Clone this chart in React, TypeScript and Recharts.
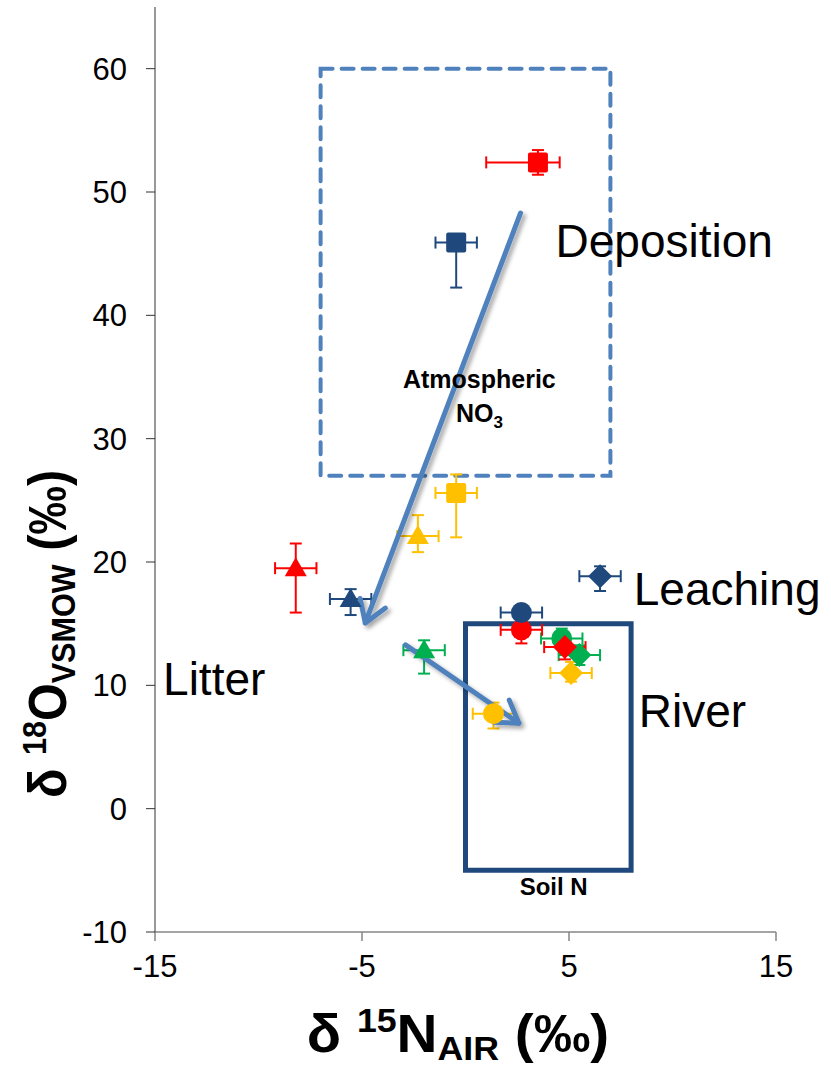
import React from 'react';
import {
  ScatterChart,
  Scatter,
  XAxis,
  YAxis,
  ErrorBar,
  ReferenceArea,
  ReferenceLine,
  ReferenceDot,
  Label,
} from 'recharts';

// nitrate sources, one marker shape each
const sources = ['deposition', 'litter', 'river', 'leaching'];
const greenSources = ['litter', 'river', 'leaching'];

// δ15N (x) and δ18O (y) means, spreads are [minus, plus]
const redN = [3.5, -8.2, 2.7, 4.8];
const redO = [52.4, 19.5, 14.5, 13.1];
const redNErr = [[2.5, 1.05], [1, 1], [1, 1], [1, 1]];
const redOErr = [[1, 1], [3.6, 2], [1.1, 0.6], [1, 0.6]];

const navyN = [-0.45, -5.55, 2.7, 6.5];
const navyO = [45.9, 17.0, 15.9, 18.85];
const navyNErr = [[1, 1], [1, 1], [1, 1], [1, 1]];
const navyOErr = [[3.65, 0.5], [1.3, 0.8], [0.6, 0.6], [1.2, 0.8]];

const goldN = [-0.45, -2.3, 1.35, 5.1];
const goldO = [25.6, 22.1, 7.7, 11.0];
const goldNErr = [[1, 1], [1, 1], [1, 1], [1, 1]];
const goldOErr = [[3.6, 1.5], [1.3, 1.7], [1.2, 0.9], [0.7, 0.9]];

const greenN = [-2.0, 4.65, 5.5];
const greenO = [12.85, 13.8, 12.45];
const greenNErr = [[1, 1], [1, 1], [1, 1]];
const greenOErr = [[1.9, 0.8], [0.8, 0.8], [0.8, 0.8]];

const xTicks = [-15, -5, 5, 15];
const yTicks = [-10, 0, 10, 20, 30, 40, 50, 60];

// source boxes [x1, x2, y1, y2]
const atmosphericBox = [-7, 7, 27, 60];
const soilBox = [0, 8, -5, 15];

// process arrows, [from, to] in δ15N / δ18O
const arrows = [
  [[2.66, 48.3], [-4.84, 15.06]],
  [[-2.9, 13.28], [2.58, 6.93]],
];

const FONT = "'Liberation Sans', Arial, sans-serif";

const notes = [
  { text: 'Deposition', x: 4.35, y: 44.74, size: 46, bold: false, anchor: 'start' },
  { text: 'Leaching', x: 8.13, y: 16.52, size: 46, bold: false, anchor: 'start' },
  { text: 'River', x: 8.37, y: 6.63, size: 46, bold: false, anchor: 'start' },
  { text: 'Litter', x: -14.61, y: 9.22, size: 46, bold: false, anchor: 'start' },
  { text: 'Atmospheric', x: 0.67, y: 34.12, size: 25, bold: true, anchor: 'middle' },
  { text: 'Soil N', x: 4.26, y: -7.0, size: 24, bold: true, anchor: 'middle' },
];

const build = (kinds: string[], n: number[], o: number[], nErr: number[][], oErr: number[][]) =>
  kinds.map((kind, i) => ({ kind, n: n[i], o: o[i], nErr: nErr[i], oErr: oErr[i] }));

const groups = [
  { name: 'green', color: '#00B050', data: build(greenSources, greenN, greenO, greenNErr, greenOErr) },
  { name: 'red', color: '#FF0000', data: build(sources, redN, redO, redNErr, redOErr) },
  { name: 'navy', color: '#1F497D', data: build(sources, navyN, navyO, navyNErr, navyOErr) },
  { name: 'gold', color: '#FFC000', data: build(sources, goldN, goldO, goldNErr, goldOErr) },
];

const Marker = (props: any) => {
  const { cx, cy, fill, payload } = props;
  switch (payload.kind) {
    case 'deposition':
      return <rect x={cx - 10} y={cy - 10} width={20} height={20} rx={2} fill={fill} />;
    case 'litter':
      return <polygon points={`${cx},${cy - 11} ${cx + 11},${cy + 8} ${cx - 11},${cy + 8}`} fill={fill} />;
    case 'river':
      return <circle cx={cx} cy={cy} r={10.5} fill={fill} />;
    default:
      return <polygon points={`${cx},${cy - 12} ${cx + 12},${cy} ${cx},${cy + 12} ${cx - 12},${cy}`} fill={fill} />;
  }
};

const makeArrow = (id: string) => (p: any) => {
  const { x1, y1, x2, y2 } = p;
  const a = Math.atan2(y2 - y1, x2 - x1);
  const len = 25;
  const spread = Math.PI / 5.5;
  const hx1 = x2 - len * Math.cos(a - spread);
  const hy1 = y2 - len * Math.sin(a - spread);
  const hx2 = x2 - len * Math.cos(a + spread);
  const hy2 = y2 - len * Math.sin(a + spread);
  return (
    <g>
      <defs>
        <filter id={id} x="-20%" y="-20%" width="140%" height="140%">
          <feDropShadow dx="3" dy="3" stdDeviation="2" floodColor="#000" floodOpacity="0.35" />
        </filter>
      </defs>
      <g filter={`url(#${id})`} stroke="#4F81BD" strokeWidth={5} fill="none" strokeLinecap="round" strokeLinejoin="round">
        <line x1={x1} y1={y1} x2={x2} y2={y2} />
        <polyline points={`${hx1},${hy1} ${x2},${y2} ${hx2},${hy2}`} />
      </g>
    </g>
  );
};

const noteShape = (note: (typeof notes)[number]) => (p: any) => (
  <text
    x={p.cx}
    y={p.cy}
    textAnchor={note.anchor}
    fontFamily={FONT}
    fontSize={note.size}
    fontWeight={note.bold ? 700 : 400}
    fill="#000"
  >
    {note.text}
  </text>
);

const no3Shape = (p: any) => (
  <text x={p.cx} y={p.cy} textAnchor="middle" fontFamily={FONT} fontSize={25} fontWeight={700} fill="#000">
    NO
    <tspan fontSize={17} dy={6}>3</tspan>
  </text>
);

const XTitle = () => (
  <text
    transform="translate(458,1052) scale(1.05,1)"
    x={0}
    y={0}
    textAnchor="middle"
    fontFamily={FONT}
    fontSize={54}
    fontWeight={700}
    fill="#000"
  >
    δ{' '}
    <tspan fontSize={34} dy={-20}>15</tspan>
    <tspan dy={20}>N</tspan>
    <tspan fontSize={34} dy={8}>AIR</tspan>
    <tspan dy={-8}> (‰)</tspan>
  </text>
);

const YTitle = () => (
  <text
    transform="translate(66,634) rotate(-90) scale(0.9,1)"
    x={0}
    y={0}
    textAnchor="middle"
    fontFamily={FONT}
    fontSize={54}
    fontWeight={700}
    fill="#000"
  >
    δ{' '}
    <tspan fontSize={34} dy={-20}>18</tspan>
    <tspan dy={20}>O</tspan>
    <tspan fontSize={34} dy={9}>VSMOW</tspan>
    <tspan dy={-9}> (‰)</tspan>
  </text>
);

export default function App() {
  return (
    <div style={{ position: 'absolute', left: 0, top: 0, background: '#fff' }}>
      <ScatterChart width={831} height={1071} margin={{ top: 7, right: 55, bottom: 0, left: 0 }}>
        <XAxis
          type="number"
          dataKey="n"
          domain={[-15, 15]}
          ticks={xTicks}
          allowDataOverflow
          height={139}
          tickSize={9}
          tickMargin={14}
          stroke="#868686"
          strokeWidth={1.5}
          tick={{ fill: '#000', fontSize: 31, fontFamily: FONT }}
        >
          <Label content={<XTitle />} />
        </XAxis>
        <YAxis
          type="number"
          dataKey="o"
          domain={[-10, 65]}
          ticks={yTicks}
          allowDataOverflow
          width={155}
          tickSize={9}
          tickMargin={19}
          stroke="#333"
          tick={{ fill: '#000', fontSize: 31, fontFamily: FONT }}
        >
          <Label content={<YTitle />} />
        </YAxis>

        <ReferenceArea
          x1={atmosphericBox[0]}
          x2={atmosphericBox[1]}
          y1={atmosphericBox[2]}
          y2={atmosphericBox[3]}
          fill="none"
          stroke="#4F81BD"
          strokeWidth={4}
          strokeDasharray="12 9"
          strokeLinecap="round"
        />
        <ReferenceArea
          x1={soilBox[0]}
          x2={soilBox[1]}
          y1={soilBox[2]}
          y2={soilBox[3]}
          fill="none"
          stroke="#1F497D"
          strokeWidth={5}
        />

        {groups.map((g) => (
          <Scatter key={g.name} name={g.name} data={g.data} fill={g.color} shape={Marker} isAnimationActive={false}>
            <ErrorBar dataKey="nErr" direction="x" width={6} stroke={g.color} strokeWidth={2} />
            <ErrorBar dataKey="oErr" direction="y" width={6} stroke={g.color} strokeWidth={2} />
          </Scatter>
        ))}

        {arrows.map((a, i) => (
          <ReferenceLine
            key={i}
            segment={[{ x: a[0][0], y: a[0][1] }, { x: a[1][0], y: a[1][1] }]}
            shape={makeArrow(`arrowShadow${i}`)}
            ifOverflow="visible"
          />
        ))}

        {notes.map((note) => (
          <ReferenceDot key={note.text} x={note.x} y={note.y} r={0} shape={noteShape(note)} ifOverflow="visible" />
        ))}
        <ReferenceDot x={0.67} y={31.36} r={0} shape={no3Shape} ifOverflow="visible" />
      </ScatterChart>
    </div>
  );
}
